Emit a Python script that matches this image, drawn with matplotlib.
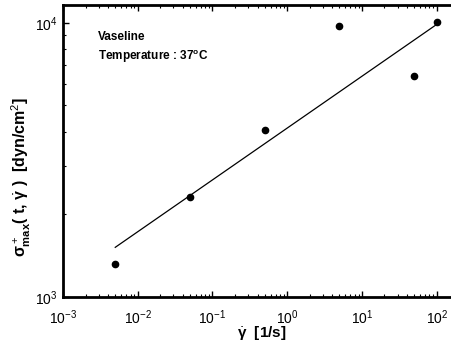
import matplotlib
matplotlib.use("Agg")
import matplotlib.pyplot as plt

plt.rcParams['font.family'] = ['Liberation Sans', 'DejaVu Sans']
plt.rcParams['mathtext.fontset'] = 'custom'
plt.rcParams['mathtext.rm'] = 'Liberation Sans'
plt.rcParams['mathtext.it'] = 'Liberation Sans:bold'
plt.rcParams['mathtext.bf'] = 'Liberation Sans:bold'

# measured points
shear_rate = [0.005, 0.05, 0.5, 5, 50, 100]
stress_max = [1315, 2320, 4070, 9700, 6410, 10040]

# fitted power-law line (end points)
fit_rate = [0.005, 100]
fit_stress = [1518, 9870]

fig = plt.figure(figsize=(4.51, 3.43), dpi=100)
ax = fig.add_axes([0.1397, 0.134, 0.88, 0.851])

ax.plot(fit_rate, fit_stress, color='black', lw=0.9)
ax.plot(shear_rate, stress_max, 'o', color='black', ms=4.5)

ax.set_xscale('log')
ax.set_yscale('log')
ax.set_xlim(1e-3, 204)
ax.set_ylim(1e3, 1.16e4)

for s in ax.spines.values():
    s.set_linewidth(2)
ax.tick_params(which='both', direction='in', top=True, right=True, labelsize=10)
ax.tick_params(which='major', length=4, width=1)
ax.tick_params(which='minor', length=2, width=0.8)
ax.tick_params(axis='x', which='major', pad=8)
ax.tick_params(axis='y', which='major', pad=4)

ax.set_xlabel(r'$\dot{\gamma}$  [1/s]', fontsize=11, fontweight='bold', labelpad=-2)
ax.set_ylabel(r'$\sigma^+_{max}$( t, $\dot{\gamma}$ )  [dyn/cm$^2$]', fontsize=11.5,
              fontweight='bold')
ax.yaxis.set_label_coords(-0.075, 0.41)

ax.text(0.087, 0.91, 'Vaseline\nTemperature : 37$^o$C', transform=ax.transAxes,
        fontsize=8.5, fontweight='bold', va='top', linespacing=1.4)

fig.savefig('out.png', dpi=100)
